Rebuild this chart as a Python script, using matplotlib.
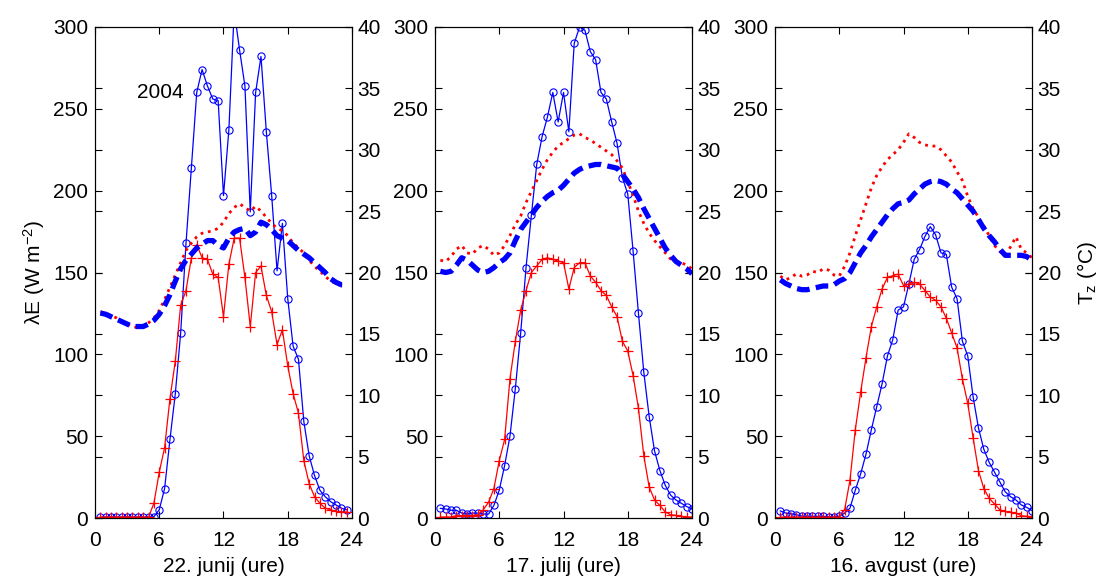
import numpy as np
import matplotlib
matplotlib.use("Agg")
import matplotlib.pyplot as plt

plt.rcParams['font.family'] = ['Liberation Sans', 'DejaVu Sans']
plt.rcParams['mathtext.fontset'] = 'custom'
plt.rcParams['mathtext.rm'] = 'Liberation Sans'
plt.rcParams['mathtext.it'] = 'Liberation Sans'

# ---------------- data ----------------
hours_jun = np.arange(1, 48) * 0.5          # 0.5 ... 23.5
hours_jul = np.arange(1, 49) * 0.5          # 0.5 ... 24
hours_avg = np.arange(1, 49) * 0.5

day_labels = ["22. junij (ure)", "17. julij (ure)", "16. avgust (ure)"]
xticks = [0, 6, 12, 18, 24]
yticks_le = [0, 50, 100, 150, 200, 250, 300]
yticks_t = [0, 5, 10, 15, 20, 25, 30, 35, 40]

# latent heat flux, blue (circles)
le_blue_jun = [0.5, 0.5, 0.5, 0.5, 0.5, 0.5, 0.5, 0.5, 0.5, 0.5,
               0.8, 5, 18, 48, 76, 113, 168, 214, 260, 274, 264, 256, 255, 197,
               237, 310, 286, 264, 187, 260, 282, 236, 197, 151, 180, 134, 105,
               97, 59, 38, 26, 17, 13, 10, 8, 6, 5]
# latent heat flux, red (plus)
le_red_jun = [0.5, 0.5, 0.5, 0.5, 0.5, 0.5, 0.5, 0.5, 0.5, 0.5,
              9, 28, 43, 73, 96, 130, 139, 159, 167, 159, 158, 149, 147, 123,
              155, 171, 171, 147, 117, 150, 154, 136, 126, 106, 115, 93, 76,
              64, 35, 21, 13, 9, 6, 5, 4, 3.7, 3.7]
t_blue_jun = [16.7, 16.6, 16.4, 16.2, 16.0, 15.8, 15.6, 15.6, 15.6, 15.8,
              16.1, 16.6, 17.3, 18.2, 19.3, 20.3, 21.0, 21.5, 22.0, 22.3,
              22.6, 22.6, 22.2, 22.0, 22.8, 23.3, 23.5, 23.6, 23.0, 23.3,
              24.1, 23.9, 23.5, 23.0, 22.8, 22.6, 22.2, 21.8, 21.5, 21.2,
              20.8, 20.4, 20.0, 19.5, 19.2, 19.0, 19.0]
t_red_jun = [16.8, 16.7, 16.5, 16.3, 16.0, 15.8, 15.6, 15.5, 15.6, 15.9,
             16.3, 16.9, 17.8, 18.8, 19.8, 20.8, 21.8, 22.4, 22.9, 23.2,
             23.3, 23.4, 23.6, 24.1, 24.8, 25.3, 25.6, 25.3, 25.0, 25.4,
             25.0, 24.5, 24.0, 23.6, 23.4, 23.0, 22.4, 22.0, 21.6, 21.0,
             20.5, 20.1, 19.7, 19.3, 19.1, 19.1, 19.2]

le_blue_jul = [5.9, 5.5, 4.7, 4.7, 3, 2.4, 3, 3, 2.4, 2.4,
               7.7, 17, 32, 50, 79, 113, 153, 185, 216, 233,
               245, 260, 242, 260, 236, 290, 300, 298, 285, 280,
               260, 256, 242, 229, 208, 198, 163, 125, 89, 62,
               41, 29, 20, 14, 11, 9, 7, 5.5]
le_red_jul = [0.6, 0.6, 0.6, 1.5, 1.5, 1.5, 1.5, 2, 5, 9.6,
              18, 35, 48, 85, 108, 127, 139, 150, 154, 158,
              159, 158, 157, 156, 140, 153, 156, 156, 148, 144,
              139, 136, 129, 123, 108, 102, 87, 67, 38, 19,
              11, 7.7, 3.7, 2, 1.6, 1, 0.6, 0.6]
t_blue_jul = [20.1, 20.0, 20.1, 20.6, 21.2, 21.0, 20.6, 20.2, 20.0, 20.1,
              20.4, 20.8, 21.1, 21.6, 22.6, 23.5, 24.1, 24.7, 25.3, 25.8,
              26.2, 26.5, 26.7, 27.1, 27.6, 28.1, 28.4, 28.6, 28.7, 28.8,
              28.8, 28.7, 28.6, 28.5, 28.0, 27.4, 26.8, 26.1, 25.2, 24.4,
              23.6, 22.8, 22.0, 21.4, 20.9, 20.6, 20.3, 19.9]
t_red_jul = [21.0, 20.9, 21.3, 21.9, 22.2, 21.6, 21.5, 22.0, 22.2, 21.9,
             21.4, 21.6, 22.2, 23.0, 23.9, 24.6, 25.7, 26.6, 27.5, 28.4,
             29.2, 29.8, 30.3, 30.6, 30.9, 31.2, 31.3, 31.0, 30.8, 30.5,
             30.2, 29.9, 29.6, 29.1, 28.5, 27.4, 26.3, 25.0, 24.0, 23.2,
             22.6, 22.1, 21.6, 21.1, 20.9, 20.8, 20.6, 20.3]

le_blue_avg = [4.3, 3, 2.6, 2, 1.2, 1, 1, 1, 1, 0.8,
               0.5, 1, 3, 6, 17, 27, 39, 54, 68, 82,
               99, 109, 127, 129, 143, 158, 164, 172, 178, 173,
               162, 161, 141, 134, 108, 99, 74, 55, 42, 34,
               28, 22, 16, 13, 11, 8, 6.5, 4.5]
le_red_avg = [0.5, 0.5, 0.5, 0.5, 0.5, 0.5, 0.5, 0.5, 0.5, 0.5,
              0.5, 0.5, 5, 23, 54, 77, 98, 117, 129, 140,
              147, 148, 149, 142, 143, 144, 143, 139, 135, 133,
              129, 122, 113, 104, 85, 70, 49, 29, 18, 12,
              8.6, 5, 4, 3.5, 3, 1.4, 1, 0.6]
t_blue_avg = [19.4, 19.1, 18.9, 18.7, 18.6, 18.6, 18.7, 18.8, 18.9, 18.9,
              19.0, 19.3, 19.5, 20.0, 20.8, 21.6, 22.2, 22.9, 23.5, 24.1,
              24.7, 25.2, 25.6, 25.7, 25.9, 26.4, 26.8, 27.2, 27.4, 27.5,
              27.4, 27.2, 26.8, 26.5, 26.0, 25.5, 25.0, 24.3, 23.6, 23.0,
              22.5, 21.9, 21.4, 21.4, 21.4, 21.4, 21.3, 21.0]
t_red_avg = [19.7, 19.4, 19.6, 19.9, 19.7, 19.8, 20.1, 20.0, 20.3, 20.2,
             19.8, 19.7, 20.5, 21.6, 23.0, 24.3, 25.6, 26.9, 27.9, 28.6,
             29.2, 29.6, 30.0, 30.6, 31.3, 31.0, 30.6, 30.4, 30.3, 30.3,
             30.0, 29.5, 29.0, 28.2, 27.5, 26.2, 25.2, 24.5, 23.8, 23.0,
             22.2, 21.7, 21.4, 22.1, 22.9, 21.9, 21.6, 21.2]

panels = [
    (hours_jun, le_blue_jun, le_red_jun, t_blue_jun, t_red_jun),
    (hours_jul, le_blue_jul, le_red_jul, t_blue_jul, t_red_jul),
    (hours_avg, le_blue_avg, le_red_avg, t_blue_avg, t_red_avg),
]

# ---------------- figure ----------------
W, H = 1108, 583
fig = plt.figure(figsize=(W / 100, H / 100), dpi=100)

lefts = [95, 435, 775]
width = 257
top, bottom = 27, 518
FS = 15
BLUE = (0, 0, 1)
RED = (1, 0, 0)

for i, (hrs, lb, lr, tb, tr) in enumerate(panels):
    ax = fig.add_axes([lefts[i] / W, (H - bottom) / H, width / W, (bottom - top) / H])
    ax2 = ax.twinx()

    ax.plot(hrs, lb, '-', color=BLUE, lw=0.9, marker='o', ms=5.2,
            mfc='none', mec=BLUE, mew=0.8)
    ax.plot(hrs, lr, '-', color=RED, lw=0.9, marker='+', ms=6.5,
            mec=RED, mew=0.9)

    ax2.plot(hrs, tr, color=RED, lw=2.0, dashes=(1.0, 1.7), dash_capstyle='butt')
    ax2.plot(hrs, tb, color=BLUE, lw=3.8, dashes=(2.4, 1.2), dash_capstyle='butt')

    ax.set_xlim(0, 24)
    ax.set_ylim(0, 300)
    ax2.set_ylim(0, 40)
    ax.set_xticks(xticks)
    ax.set_yticks(yticks_le)
    ax2.set_yticks(yticks_t)

    ax.tick_params(axis='x', direction='in', length=5, width=0.8, top=True,
                   labelsize=FS, pad=9.5)
    ax.tick_params(axis='y', direction='in', length=5, width=0.8, right=True,
                   labelsize=FS, pad=5)
    ax2.tick_params(axis='y', direction='in', length=5, width=0.8, left=True,
                    labelsize=FS, pad=4)
    for a in (ax, ax2):
        for s in a.spines.values():
            s.set_linewidth(0.8)
    ax.set_xlabel(day_labels[i], fontsize=FS, labelpad=5)

    if i == 0:
        ax.set_ylabel(r'$\lambda$E (W m$^{-2}$)', fontsize=FS, labelpad=4)
        ax.text(3.9, 260, '2004', fontsize=FS, ha='left', va='center')
    if i == 2:
        ax2.set_ylabel(r'T$_{\rm z}$ ($\degree$C)', fontsize=FS, labelpad=10)

fig.savefig('out.png', dpi=100)
